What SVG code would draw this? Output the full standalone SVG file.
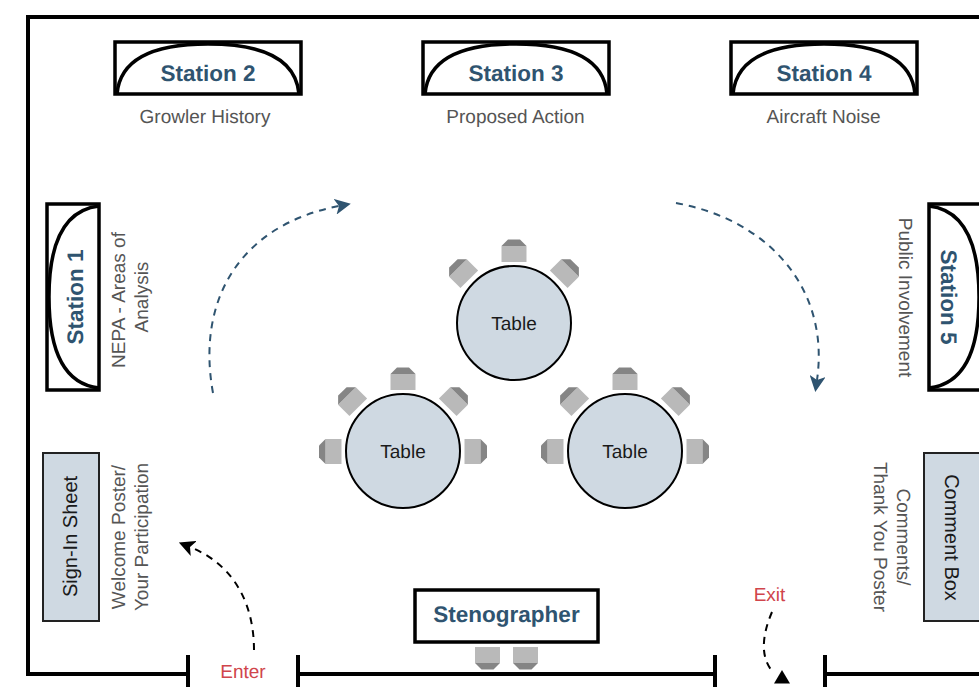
<svg xmlns="http://www.w3.org/2000/svg" width="979" height="687" viewBox="0 0 979 687">
<style>
text{font-family:"Liberation Sans",Arial,sans-serif;text-anchor:middle;text-rendering:geometricPrecision}
.st{font-size:22.500px;font-weight:bold;fill:#2f5470}
.lb{font-size:19px;fill:#555}
.tb{font-size:19px;fill:#1a1a1a}
.sh{font-size:20px;fill:#1a1a1a}
.rd{font-size:19px;fill:#d0454c}
.box{fill:#fff;stroke:#000;stroke-width:3.500}
.arc{fill:none;stroke:#000;stroke-width:3.500}
.wall{fill:none;stroke:#000;stroke-width:4}
.tbl{fill:#cfd9e2;stroke:#000;stroke-width:2}
.sheet{fill:#cfd9e2;stroke:#222;stroke-width:2}
.seat{fill:#b9b9b9}
.back{fill:#858585}
.dn{fill:none;stroke:#2f5470;stroke-width:2;stroke-dasharray:7 6}
.dk{fill:none;stroke:#000;stroke-width:2;stroke-dasharray:7 6}
</style>
<defs>
<g id="chair"><rect class="seat" x="-12.500" y="-5" width="25" height="16"/><path class="back" d="M-12.500-5L-6-11.500H6L12.500-5Z"/></g>
<marker id="an" viewBox="0 0 16 16" refX="4" refY="8" markerWidth="16" markerHeight="16" markerUnits="userSpaceOnUse" orient="auto"><path d="M0 0L16 8L0 16L4 8Z" fill="#2f5470"/></marker>
<marker id="ak" viewBox="0 0 16 16" refX="4" refY="8" markerWidth="16" markerHeight="16" markerUnits="userSpaceOnUse" orient="auto"><path d="M0 0L16 8L0 16L4 8Z" fill="#000"/></marker>
</defs>
<g id="walls"><path class="wall" d="M979 17H28V674H188M298 674H715M825 674H979M188 655V687M298 655V687M715 655V687M825 655V687"/></g>
<g id="station-2"><rect class="box" x="115" y="42" width="186" height="52"/><path class="arc" d="M117 94C120 60 152 44 208 44C264 44 296 60 299 94"/><text class="st" x="208" y="81">Station 2</text><text class="lb" x="205" y="123">Growler History</text></g>
<g id="station-3"><rect class="box" x="423" y="42" width="186" height="52"/><path class="arc" d="M425 94C428 60 460 44 516 44C572 44 604 60 607 94"/><text class="st" x="516" y="81">Station 3</text><text class="lb" x="515.500" y="123">Proposed Action</text></g>
<g id="station-4"><rect class="box" x="731" y="42" width="186" height="52"/><path class="arc" d="M733 94C736 60 768 44 824 44C880 44 912 60 915 94"/><text class="st" x="824" y="81">Station 4</text><text class="lb" x="823.500" y="123">Aircraft Noise</text></g>
<g id="station-1"><rect class="box" x="47" y="204" width="52" height="186"/><path class="arc" d="M99 206C64 210 49 244 49 297C49 350 64 384 99 388"/><text class="st" transform="translate(82.500 297) rotate(-90)">Station 1</text><text class="lb" transform="translate(125 300) rotate(-90)">NEPA - Areas of</text><text class="lb" transform="translate(148 297) rotate(-90)">Analysis</text></g>
<g id="station-5"><rect class="box" x="929" y="204" width="60" height="186"/><path class="arc" d="M929 206C964 210 979 244 979 297C979 350 964 384 929 388"/><text class="st" transform="translate(941 297) rotate(90)">Station 5</text><text class="lb" transform="translate(899 297.500) rotate(90)">Public Involvement</text></g>
<g id="sign-in"><rect class="sheet" x="43" y="453" width="56" height="168"/><text class="sh" transform="translate(77 536.500) rotate(-90)">Sign-In Sheet</text><text class="lb" transform="translate(125 537) rotate(-90)">Welcome Poster/</text><text class="lb" transform="translate(148 537) rotate(-90)">Your Participation</text></g>
<g id="comment-box"><rect class="sheet" x="924" y="453" width="60" height="168"/><text class="sh" transform="translate(945 537.500) rotate(90)">Comment Box</text><text class="lb" transform="translate(897 537) rotate(90)">Comments/</text><text class="lb" transform="translate(874 537) rotate(90)">Thank You Poster</text></g>
<g id="stenographer"><rect class="box" x="415" y="590" width="183" height="52"/><text class="st" x="506.500" y="622">Stenographer</text><use href="#chair" transform="translate(487.500 658) rotate(180)"/><use href="#chair" transform="translate(525.500 658) rotate(180)"/></g>
<g id="table-top"><use href="#chair" transform="translate(514 251)"/><use href="#chair" transform="translate(461.500 271.500) rotate(-45)"/><use href="#chair" transform="translate(566.500 271.500) rotate(45)"/><circle class="tbl" cx="514" cy="323" r="57"/><text class="tb" x="514" y="330">Table</text></g>
<g id="table-left"><use href="#chair" transform="translate(403 379)"/><use href="#chair" transform="translate(350.500 399.500) rotate(-45)"/><use href="#chair" transform="translate(455.500 399.500) rotate(45)"/><use href="#chair" transform="translate(330.500 451.500) rotate(-90)"/><use href="#chair" transform="translate(475.500 451.500) rotate(90)"/><circle class="tbl" cx="403" cy="451" r="57"/><text class="tb" x="403" y="458">Table</text></g>
<g id="table-right"><use href="#chair" transform="translate(625 379)"/><use href="#chair" transform="translate(572.500 399.500) rotate(-45)"/><use href="#chair" transform="translate(677.500 399.500) rotate(45)"/><use href="#chair" transform="translate(552.500 451.500) rotate(-90)"/><use href="#chair" transform="translate(697.500 451.500) rotate(90)"/><circle class="tbl" cx="625" cy="451" r="57"/><text class="tb" x="625" y="458">Table</text></g>
<text class="rd" x="243" y="678">Enter</text>
<text class="rd" x="769.500" y="601">Exit</text>
<g id="connectors">
<path class="dn" d="M213 393C196 300 240 225 339 206" marker-end="url(#an)"/>
<path class="dn" d="M676 203C770 220 830 290 817 380" marker-end="url(#an)"/>
<path class="dk" d="M254 650C254 605 235 565 190 547" marker-end="url(#ak)"/>
<path class="dk" d="M772 612C760 640 762 660 773 672"/>
<path d="M782 670L790 683.500H774Z" fill="#000"/>
</g>
</svg>
